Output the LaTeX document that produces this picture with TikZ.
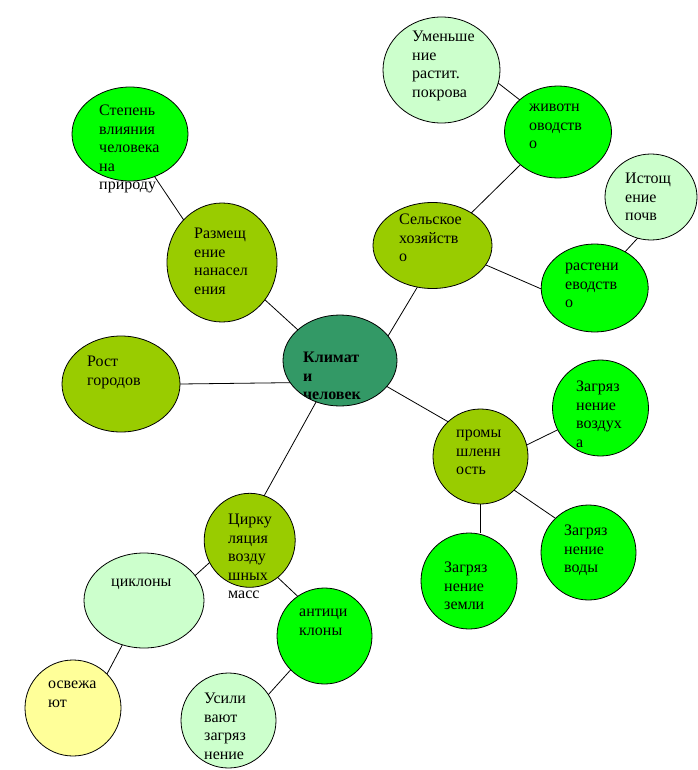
\documentclass[tikz,border=0pt]{standalone}
\usepackage{fontspec}
\setmainfont{Liberation Serif}
\usetikzlibrary{shapes.geometric}
\definecolor{oliv}{HTML}{99CC00}
\definecolor{bgreen}{HTML}{00FF00}
\definecolor{lgreen}{HTML}{CCFFCC}
\definecolor{seagr}{HTML}{339966}
\definecolor{lyellow}{HTML}{FFFF99}
\tikzstyle{bubble}=[ellipse,draw,line width=0.8pt,inner sep=0pt,outer sep=0pt]
\tikzstyle{txt}=[anchor=north west,inner sep=0pt,align=left,font=\fontsize{16}{18.5}\selectfont,execute at begin node=\strut]
\tikzstyle{edge}=[draw,line width=0.8pt]
\begin{document}
\begin{tikzpicture}[x=1pt,y=-1pt]
\useasboundingbox (0,0) rectangle (697,770);

    % ovals
    \foreach \pos/\name/\w/\h/\col in {(441.5,70)/umen/117/106/lgreen, (558,132)/zhiv/107/92/bgreen,
        (130,134)/stepen/116/94/bgreen, (651,197)/ist/92/86/lgreen, (432.5,245.5)/selsk/119/86/oliv,
        (222,262.5)/razm/110/119/oliv, (594.7,288)/rast/107/88/bgreen, (340,360.5)/klimat/114/91/seagr,
        (121,384)/rost/118/96/oliv, (600.5,408)/vozd/96/96/bgreen, (480.5,456.5)/prom/95/95/oliv,
        (588.5,552.5)/voda/95/95/bgreen, (469,581)/zemlya/96/96/bgreen, (249.7,540.3)/cirk/91/94/oliv,
        (144,600.5)/cikl/120/95/lgreen, (324.5,636)/anti/95/96/bgreen, (73,708)/osv/96/96/lyellow,
        (228.5,720.5)/usil/95/95/lgreen}
        \node[bubble,fill=\col,minimum width=\w pt,minimum height=\h pt] (\name) at \pos {};

    % connectors
    \foreach \source/\dest in {umen.347/zhiv.140, stepen.300/razm.132, razm.319/klimat.144,
        rost.east/klimat.204, klimat.27/selsk.250, selsk.40/zhiv.221, selsk.340/rast.181,
        ist.252/rast.50, klimat.331/prom.133, prom.14/vozd.207, prom.315/voda.134,
        klimat.240/cirk.72, cirk.209/cikl.26, cirk.307/anti.124, cikl.244/osv.45, anti.225/usil.33}
        \draw[edge] (\source) -- (\dest);
    \draw[edge] (prom.south) -- (prom.south |- zemlya.north);

    % texts
    \foreach \pos/\name/\label in {(412,31)/umen/{Уменьше\\ние\\растит.\\покрова},
        (529,104)/zhiv/{животн\\оводств\\о}, (99,105)/stepen/{Степень\\влияния\\человека\\на\\природу},
        (625,173)/ist/{Истощ\\ение\\почв}, (399,214)/selsk/{Сельское\\хозяйств\\о},
        (194,228)/razm/{Размещ\\ение\\нанасел\\ения}, (565,263)/rast/{растени\\еводств\\о},
        (87,356)/rost/{Рост\\городов}, (576,381)/vozd/{Загряз\\нение\\воздух\\а},
        (456,430)/prom/{промы\\шленн\\ость}, (564,525)/voda/{Загряз\\нение\\воды},
        (444,562)/zemlya/{Загряз\\нение\\земли}, (228,514)/cirk/{Цирку\\ляция\\возду\\шных\\масс},
        (111,573)/cikl/{циклоны}, (299,609)/anti/{антици\\клоны}, (48,681)/osv/{освежа\\ют},
        (204,693)/usil/{Усили\\вают\\загряз\\нение}}
        \node[txt] (t\name) at \pos {\label};
    \node[txt,font=\fontsize{16}{18.5}\selectfont\bfseries] (tklimat) at (303,352) {Климат\\и\\человек};

\end{tikzpicture}
\end{document}
